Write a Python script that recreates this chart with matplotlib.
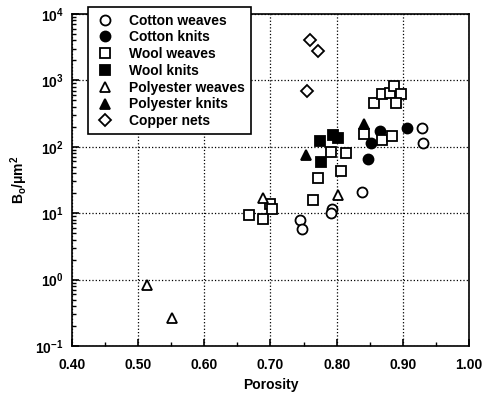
import matplotlib
matplotlib.use("Agg")
import matplotlib.pyplot as plt
from matplotlib.ticker import LogLocator, MultipleLocator

plt.rcParams['font.family'] = ['Liberation Sans', 'DejaVu Sans']
plt.rcParams['font.weight'] = 'bold'
plt.rcParams['mathtext.default'] = 'regular'

# porosity / B0 (um^2)
cotton_weaves_x = [0.929, 0.931, 0.838, 0.793, 0.791, 0.745, 0.747]
cotton_weaves_y = [190, 113, 21, 11.5, 10, 7.8, 5.8]

cotton_knits_x = [0.866, 0.852, 0.848, 0.907]
cotton_knits_y = [170, 113, 65, 190]

wool_weaves_x = [0.857, 0.868, 0.881, 0.887, 0.898, 0.889,
                 0.841, 0.869, 0.883,
                 0.791, 0.814, 0.806, 0.772, 0.764,
                 0.700, 0.703, 0.667, 0.688]
wool_weaves_y = [450, 620, 640, 810, 620, 450,
                 155, 125, 145,
                 83, 80, 43, 34, 16,
                 13.5, 11.5, 9.3, 8.3]

wool_knits_x = [0.775, 0.795, 0.802, 0.777]
wool_knits_y = [120, 148, 135, 59]

poly_weaves_x = [0.688, 0.802, 0.514, 0.551]
poly_weaves_y = [17, 19, 0.83, 0.26]

poly_knits_x = [0.842, 0.754]
poly_knits_y = [218, 74]

copper_x = [0.760, 0.772, 0.755]
copper_y = [4000, 2750, 700]

fig = plt.figure(figsize=(4.83, 3.99), dpi=100)
ax = fig.add_axes([0.149, 0.133, 0.822, 0.832])

ms = 7.2
style = dict(linestyle='none', markersize=ms, markeredgewidth=1.3, markeredgecolor='black')
ax.plot(cotton_weaves_x, cotton_weaves_y, 'o', mfc='white', label='Cotton weaves', **style)
ax.plot(cotton_knits_x, cotton_knits_y, 'o', mfc='black', label='Cotton knits', **style)
ax.plot(wool_weaves_x, wool_weaves_y, 's', mfc='white', label='Wool weaves', **style)
ax.plot(wool_knits_x, wool_knits_y, 's', mfc='black', label='Wool knits', **style)
ax.plot(poly_weaves_x, poly_weaves_y, '^', mfc='white', label='Polyester weaves', **style)
ax.plot(poly_knits_x, poly_knits_y, '^', mfc='black', label='Polyester knits', **style)
ax.plot(copper_x, copper_y, 'D', mfc='white', label='Copper nets',
        linestyle='none', markersize=5.8, markeredgewidth=1.3, markeredgecolor='black')

ax.set_yscale('log')
ax.set_xlim(0.40, 1.00)
ax.set_ylim(0.1, 1e4)
ax.xaxis.set_major_locator(MultipleLocator(0.1))
ax.xaxis.set_minor_locator(MultipleLocator(0.05))
ax.xaxis.set_major_formatter(plt.FuncFormatter(lambda v, p: f"{v:.2f}"))
ax.yaxis.set_major_locator(LogLocator(base=10, numticks=10))
ax.yaxis.set_minor_locator(LogLocator(base=10, subs=range(2, 10), numticks=10))

ax.grid(True, which='major', color='black', linestyle=':', linewidth=0.9)
ax.tick_params(which='both', direction='in', labelsize=10)
ax.tick_params(which='major', length=5, width=1.2)
ax.tick_params(which='minor', length=3, width=1.0)
ax.tick_params(axis='x', pad=9)
ax.tick_params(axis='y', pad=6)
for s in ax.spines.values():
    s.set_linewidth(1.2)

ax.set_xlabel('Porosity', fontsize=10, fontweight='bold', labelpad=4)
ax.set_ylabel('B$_o$/μm$^2$', fontsize=10, fontweight='bold')

leg = ax.legend(loc='upper left', bbox_to_anchor=(0.04, 1.02), fontsize=10,
                frameon=True, fancybox=False, edgecolor='black',
                handletextpad=0.9, borderpad=0.45, labelspacing=0.2,
                handlelength=1.6, borderaxespad=0)
leg.get_frame().set_linewidth(1.2)
leg.get_frame().set_alpha(1)

fig.savefig('out.png', dpi=100)
